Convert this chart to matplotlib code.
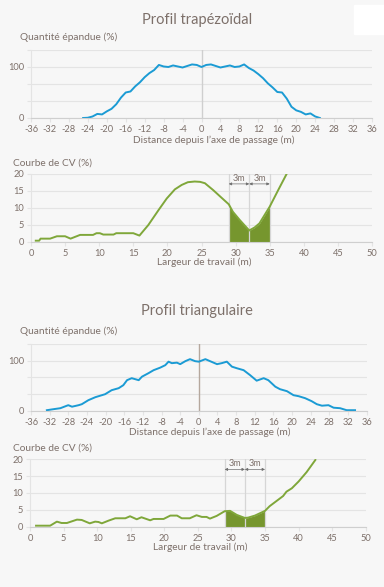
import numpy as np
import matplotlib
matplotlib.use("Agg")
import matplotlib.pyplot as plt
from matplotlib.patches import Rectangle

plt.rcParams['font.family'] = ['Lato', 'DejaVu Sans']
plt.rcParams['axes.unicode_minus'] = False

# profil trapezoidal (quantite epandue, %)
trap_x = np.arange(-25, 26)
trap_y = [0, 0.5, 3, 8, 7, 13, 18, 27, 40, 50, 52, 62, 70, 80, 88, 94,
          104, 101, 100, 103, 101, 99, 102, 105, 104, 100,
          104, 105, 102, 99, 101, 103, 100, 101, 105, 98, 93, 86, 78, 68,
          60, 51, 50, 38, 22, 15, 12, 7, 9, 3, 0]

# profil triangulaire
tri_x = [-32.6, -31.2, -29.7, -28.3, -28, -27.2, -25.8, -25.1, -23.7, -22.2,
         -20.8, -20.1, -18.7, -17.2, -16.2, -15.4, -14.4, -12.9, -12.2, -10.8,
         -9.7, -8.3, -7.2, -6.5, -5.8, -4.7, -4, -2.9, -1.9, -0.8, 0,
         1.4, 2.4, 3.9, 4.9, 6, 7.1, 8.1, 9.6, 11, 12.4, 13.9, 14.9, 16.4,
         17.4, 18.9, 20.3, 21.4, 22.8, 24.2, 25.3, 26.4, 27.8, 28.9, 30.3,
         31.7, 33.5]
tri_y = [1, 3, 5, 10, 11, 8, 11, 13, 21, 27, 31, 33, 41, 45, 51, 61, 65, 61,
         68, 75, 81, 86, 91, 98, 95, 96, 93, 99, 103, 99, 98,
         103, 99, 93, 95, 98, 88, 85, 81, 71, 60, 65, 61, 48, 43, 39, 31,
         29, 25, 19, 13, 10, 11, 6, 5, 1, 1]

# courbes de CV (%)
cv1_x = [0.7, 1.2, 1.4, 2.8, 3.8, 5, 5.8, 7.2, 9.1, 9.6, 10.1, 10.6, 12.1,
         12.5, 15, 15.9, 17.2, 18.7, 19.9, 21.1, 22.1, 23, 24, 24.8, 25.5,
         26.7, 27.9, 29, 29.6, 30.6, 32, 32.8, 33.5, 35, 36.2, 37.5]
cv1_y = [0.3, 0.3, 0.9, 0.9, 1.6, 1.6, 0.9, 2.0, 2.0, 2.5, 2.5, 2.1, 2.1,
         2.5, 2.5, 1.8, 4.9, 9.3, 12.7, 15.4, 16.7, 17.5, 17.7, 17.6, 17.2,
         15.2, 13.0, 11.0, 8.8, 6.4, 3.3, 4.2, 5.4, 10.3, 15.0, 20]

cv2_x = [0.9, 3, 4, 4.7, 5.5, 7, 7.7, 8.9, 9.7, 10.2, 10.7, 11.7, 12.7, 14.2,
         14.9, 15.9, 16.6, 17.9, 18.4, 19.9, 20.9, 21.9, 22.6, 23.8, 24.8,
         25.6, 26.3, 26.8, 27.8, 29, 29.8, 30.8, 32, 32.5, 33.5, 35, 35.7,
         36.7, 37.7, 38.2, 39, 40, 41.2, 42.5]
cv2_y = [0.3, 0.3, 1.5, 1.1, 1.1, 2.1, 2.0, 1.0, 1.5, 1.4, 1.0, 1.8, 2.5,
         2.5, 3.1, 2.2, 2.8, 1.9, 2.3, 2.3, 3.3, 3.3, 2.5, 2.5, 3.4, 2.9, 2.9,
         2.4, 3.2, 4.6, 4.7, 3.5, 2.6, 2.7, 3.3, 4.7, 6.1, 7.6, 9.1, 10.4,
         11.4, 13.4, 16.2, 19.8]

prof_ticks = np.arange(-36, 37, 4)
cv_ticks = np.arange(0, 51, 5)
marks = [29, 32, 35]

BG = '#f7f7f7'
TXT = '#7d706a'
GRID = '#e4e4e4'
BLUE = '#1b9bd4'
GREEN = '#7fa73a'
FILL = '#76962e'

fig = plt.figure(figsize=(3.84, 5.87), dpi=100, facecolor=BG)
W, H = 384.0, 587.0


def box(x0, x1, ytop, ybot):
    return [x0 / W, 1 - ybot / H, (x1 - x0) / W, (ybot - ytop) / H]


def base(ax):
    ax.set_facecolor(BG)
    for s in ['top', 'right']:
        ax.spines[s].set_visible(False)
    ax.spines['left'].set_color(GRID)
    ax.spines['bottom'].set_color('#cfcfcf')
    ax.tick_params(colors=GRID, labelcolor=TXT, labelsize=6.7, length=3,
                   width=0.8, pad=2)
    ax.grid(axis='y', color=GRID, lw=0.8)
    ax.set_axisbelow(True)


def profile(rect, x, y, zcolor):
    ax = fig.add_axes(rect)
    base(ax)
    ax.set_xlim(-36, 36)
    ax.set_ylim(0, 133.3)
    ax.set_xticks(prof_ticks)
    ax.set_yticks([0, 33.3, 66.7, 100, 133.3])
    ax.set_yticklabels(['0', '', '', '100', ''])
    ax.axvline(0, color=zcolor, lw=1)
    ax.plot(x, y, color=BLUE, lw=1.4, solid_joinstyle='round')
    return ax


def cvplot(rect, x, y):
    ax = fig.add_axes(rect)
    base(ax)
    ax.set_xlim(0, 50)
    ax.set_ylim(0, 20)
    ax.set_xticks(cv_ticks)
    ax.set_yticks([0, 5, 10, 15, 20])
    xs = np.array(x)
    ys = np.array(y)
    m = (xs >= marks[0]) & (xs <= marks[-1])
    ax.fill_between(xs[m], 0, ys[m], color=FILL, lw=0)
    for mx in marks:
        ax.axvline(mx, color='#d6d6d6', lw=0.9)
    for a, b in zip(marks[:-1], marks[1:]):
        ax.annotate('', xy=(a, 17), xytext=(b, 17),
                    arrowprops=dict(arrowstyle='<|-|>', color='#6e6e6e',
                                    lw=0.5, mutation_scale=4, shrinkA=0,
                                    shrinkB=0))
        ax.text((a + b) / 2, 17.3, '3m', color=TXT, fontsize=6.5,
                ha='center', va='bottom')
    ax.plot(xs, ys, color=GREEN, lw=1.4, clip_on=True)
    return ax


profile(box(31, 372, 50, 118), trap_x, trap_y, '#cfcfcf')
cvplot(box(31, 372, 173.7, 241.7), cv1_x, cv1_y)
profile(box(31, 366.7, 344, 410.7), tri_x, tri_y, '#b5a89e')
cvplot(box(30, 365.7, 459.3, 526.7), cv2_x, cv2_y)


def ftext(x, y, s, size, ha='left'):
    fig.text(x / W, 1 - y / H, s, fontsize=size, color=TXT, ha=ha,
             va='center')


ftext(197, 20, 'Profil trapézoïdal', 10.5, 'center')
ftext(20, 37, 'Quantité épandue (%)', 7.3)
ftext(214, 140, 'Distance depuis l’axe de passage (m)', 7.3, 'center')
ftext(13, 163, 'Courbe de CV (%)', 7.3)
ftext(204, 262, 'Largeur de travail (m)', 7.3, 'center')

ftext(197, 311, 'Profil triangulaire', 10.5, 'center')
ftext(20, 331, 'Quantité épandue (%)', 7.3)
ftext(210, 432, 'Distance depuis l’axe de passage (m)', 7.3, 'center')
ftext(13, 448, 'Courbe de CV (%)', 7.3)
ftext(200, 547, 'Largeur de travail (m)', 7.3, 'center')

fig.patches.append(Rectangle((354 / W, 1 - 34 / H), 30 / W, 29 / H,
                             transform=fig.transFigure, color='white',
                             zorder=0))

fig.savefig('out.png', dpi=100, facecolor=BG)
